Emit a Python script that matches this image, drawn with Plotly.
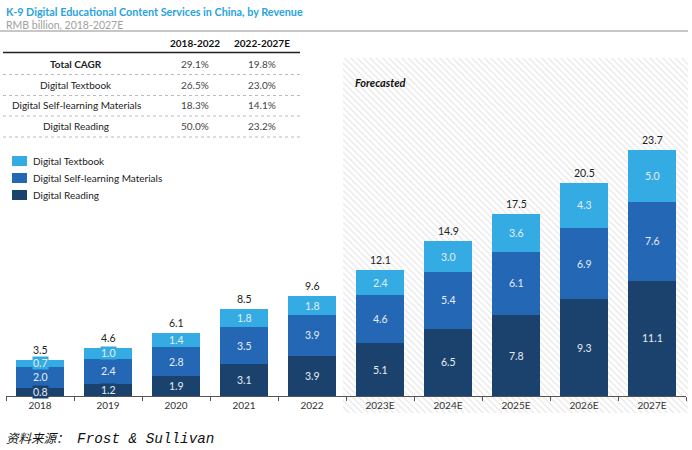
import plotly.graph_objects as go

# ---------------- data ----------------
years = ["2018", "2019", "2020", "2021", "2022", "2023E", "2024E", "2025E", "2026E", "2027E"]
digital_reading = [0.8, 1.2, 1.9, 3.1, 3.9, 5.1, 6.5, 7.8, 9.3, 11.1]
digital_self_learning = [2.0, 2.4, 2.8, 3.5, 3.9, 4.6, 5.4, 6.1, 6.9, 7.6]
digital_textbook = [0.7, 1.0, 1.4, 1.8, 1.8, 2.4, 3.0, 3.6, 4.3, 5.0]
totals = [3.5, 4.6, 6.1, 8.5, 9.6, 12.1, 14.9, 17.5, 20.5, 23.7]

cagr_periods = ["2018-2022", "2022-2027E"]
cagr_rows = ["Total CAGR", "Digital Textbook", "Digital Self-learning Materials", "Digital Reading"]
cagr_2018_2022 = ["29.1%", "26.5%", "18.3%", "50.0%"]
cagr_2022_2027 = ["19.8%", "23.0%", "14.1%", "23.2%"]

series_names = ["Digital Textbook", "Digital Self-learning Materials", "Digital Reading"]

# ---------------- style ----------------
W, H = 692, 450
C_TEXTBOOK = "#34ABE2"
C_SELF = "#2467B5"
C_READING = "#1B426D"
FONT = "Lato"

def px(x):
    return x / W

def py(y):
    return 1 - y / H

fig = go.Figure()

# hatched "forecast" background on a full-figure pixel axis
hx0, hx1, hy0, hy1 = 343, 688, 58, 413
fig.add_trace(go.Scatter(
    x=[hx0, hx1, hx1, hx0, hx0], y=[hy0, hy0, hy1, hy1, hy0],
    mode="lines", fill="toself", line=dict(width=0),
    fillcolor="rgba(0,0,0,0)",
    fillpattern=dict(shape="\\", fgcolor="#d2d2d2", bgcolor="white", size=4.5, solidity=0.3),
    hoverinfo="skip", showlegend=False, xaxis="x", yaxis="y"))

# stacked bars
for name, vals, col in [("Digital Reading", digital_reading, C_READING),
                        ("Digital Self-learning Materials", digital_self_learning, C_SELF),
                        ("Digital Textbook", digital_textbook, C_TEXTBOOK)]:
    fig.add_trace(go.Bar(x=years, y=vals, name=name, marker=dict(color=col, line=dict(width=0)),
                         xaxis="x2", yaxis="y2", showlegend=False))

annotations = []
# segment labels (x given as category index)
for i, yr in enumerate(years):
    base = 0
    for vals, col in [(digital_reading, C_READING), (digital_self_learning, C_SELF), (digital_textbook, C_TEXTBOOK)]:
        v = vals[i]
        annotations.append(dict(x=i, y=base + v / 2, xref="x2", yref="y2", text=f"{v:.1f}",
                                xanchor="center", yanchor="middle",
                                showarrow=False, font=dict(family=FONT, size=10.5, color="#E6EDF5"),
                                bgcolor=col, borderpad=0))
        base += v
    annotations.append(dict(x=i, y=base, xref="x2", yref="y2", text=f"{totals[i]:.1f}",
                            showarrow=False, xanchor="center", yanchor="bottom", yshift=2,
                            font=dict(family=FONT, size=10.5, color="#222")))

def ann(x, y, text, size=10.5, color="#222", xanchor="center", family=FONT):
    annotations.append(dict(x=px(x), y=py(y), xref="paper", yref="paper", text=text,
                            xanchor=xanchor, yanchor="middle", showarrow=False,
                            font=dict(family=family, size=size, color=color)))

# title / subtitle
ann(4, 11, "<b>K-9 Digital Educational Content Services in China, by Revenue</b>", 10.8, "#29A3DD", "left")
ann(4, 25, "RMB billion, 2018-2027E", 10.5, "#A0A0A0", "left")

# table
col_x = [76, 195, 262]
ann(col_x[1], 43, f"<b>{cagr_periods[0]}</b>", 10, "#111")
ann(col_x[2], 43, f"<b>{cagr_periods[1]}</b>", 10, "#111")
row_y = [64, 85, 105, 126]
for j, r in enumerate(cagr_rows):
    label = f"<b>{r}</b>" if j == 0 else r
    ann(col_x[0], row_y[j], label, 10, "#222")
    ann(col_x[1], row_y[j], cagr_2018_2022[j], 10, "#444")
    ann(col_x[2], row_y[j], cagr_2022_2027[j], 10, "#444")

# forecast label
ann(353, 83, "<b><i>Forecasted</i></b>", 11, "#111", "left")

# legend
leg_y = [161, 178, 195]
leg_cols = [C_TEXTBOOK, C_SELF, C_READING]
shapes = []
for k, nm in enumerate(series_names):
    shapes.append(dict(type="rect", xref="paper", yref="paper", x0=px(12), x1=px(27),
                       y0=py(leg_y[k] - 5), y1=py(leg_y[k] + 5), fillcolor=leg_cols[k], line=dict(width=0)))
    ann(31, leg_y[k], nm, 10, "#222", "left")

# source
ann(4, 437, "<i><span style='font-family:Noto Sans CJK SC;font-size:12.5px'>资料来源：</span>"
            "\u00a0Frost & Sullivan</i>", 14.3, "#111", "left", "Liberation Mono")

# lines
shapes.append(dict(type="line", xref="paper", yref="paper", x0=0, x1=px(688), y0=py(31), y1=py(31),
                   line=dict(color="#B4B4B4", width=1.5)))
shapes.append(dict(type="line", xref="paper", yref="paper", x0=px(3), x1=px(300), y0=py(52.5), y1=py(52.5),
                   line=dict(color="#222", width=1.5)))
for yy in [74.5, 95.5, 116, 137]:
    shapes.append(dict(type="line", xref="paper", yref="paper", x0=px(3), x1=px(300), y0=py(yy), y1=py(yy),
                       line=dict(color="#BBBBBB", width=1, dash="dot")))

fig.update_layout(
    width=W, height=H,
    margin=dict(l=0, r=0, t=0, b=0, pad=0),
    paper_bgcolor="white", plot_bgcolor="rgba(0,0,0,0)",
    barmode="stack", bargap=0.29,
    showlegend=False,
    xaxis=dict(domain=[0, 1], range=[0, W], visible=False, fixedrange=True),
    yaxis=dict(domain=[0, 1], range=[H, 0], visible=False, fixedrange=True),
    xaxis2=dict(domain=[6 / W, 686 / W], anchor="y2", type="category", range=[-0.5, 9.5],
                categoryorder="array", categoryarray=years,
                showline=True, linecolor="#555",
                linewidth=1, ticks="outside", tickson="boundaries", ticklen=4, tickcolor="#555",
                showgrid=False, zeroline=False,
                tickfont=dict(family=FONT, size=10, color="#333")),
    yaxis2=dict(domain=[54 / H, 324 / H], anchor="x2", range=[0, 26], visible=False, showgrid=False),
    annotations=annotations,
    shapes=shapes,
)

fig.write_html("out.html", config={"displayModeBar": False},
               post_script="document.body.style.margin='0';document.body.style.overflow='hidden';")
